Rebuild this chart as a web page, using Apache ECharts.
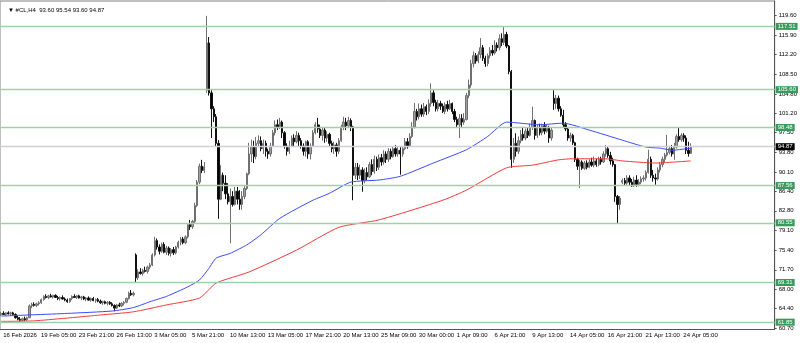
<!DOCTYPE html>
<html><head><meta charset="utf-8">
<script src="https://cdn.jsdelivr.net/npm/echarts@6/dist/echarts.min.js"></script>
<style>html,body{margin:0;padding:0;background:#fff}#c{width:800px;height:343px}</style>
</head><body><div id="c"></div>
<script>
const symbolName = '#CL,H4';
const xLabels = ['16 Feb 2026','19 Feb 05:00','23 Feb 21:00','26 Feb 13:00','3 Mar 05:00','5 Mar 21:00','10 Mar 13:00','13 Mar 05:00','17 Mar 21:00','20 Mar 13:00','25 Mar 09:00','30 Mar 00:00','1 Apr 09:00','6 Apr 21:00','9 Apr 13:00','14 Apr 05:00','16 Apr 21:00','21 Apr 13:00','24 Apr 05:00'];
const yTicks = [60.70,64.40,68.00,71.70,75.40,79.10,82.80,86.40,90.10,93.80,97.50,101.20,104.80,108.50,112.20,115.90,119.60];
const levels = [117.51,105.60,98.48,87.56,80.55,69.31,61.85];

const opens = [
63.3,63.5,63.3,63.6,63.4,63.6,63.3,62.7,62.4,62.2,
62.5,62.3,62.7,64.9,65.2,65.0,65.3,65.5,66.1,66.7,
66.5,66.8,66.6,66.9,66.5,66.3,66.5,66.2,66.0,65.7,
66.3,66.7,66.5,66.8,66.4,66.6,66.2,66.4,66.0,66.3,
65.9,66.1,65.8,65.5,65.7,65.4,65.6,65.3,65.0,64.5,
65.1,64.9,65.4,65.6,66.3,67.3,67.0,74.5,70.2,71.3,
71.0,71.6,71.4,72.2,72.6,74.5,77.2,76.0,75.2,76.5,
75.0,75.8,74.8,75.5,74.9,76.0,76.9,77.5,76.8,77.9,
80.2,79.8,80.8,83.8,88.2,91.2,90.4,105.5,114.4,105.0,
102.0,100.5,95.5,85.0,89.5,88.0,86.0,84.5,85.5,84.0,
86.5,85.0,84.0,85.5,87.0,89.8,93.5,94.8,93.0,95.5,
96.0,94.5,95.5,94.0,93.5,95.0,97.5,99.0,98.6,99.5,
97.5,95.0,94.0,95.0,96.5,95.8,97.0,96.0,95.0,94.0,
95.8,93.5,95.0,97.5,99.0,98.2,97.0,98.0,96.5,97.2,
95.5,94.5,95.2,94.0,96.0,98.6,99.5,98.8,99.8,98.6,
89.5,91.0,89.5,90.5,88.5,90.0,89.2,91.5,90.2,92.5,
91.0,92.8,92.0,93.5,92.5,94.0,93.0,94.5,93.5,94.2,
93.5,94.5,95.8,95.0,96.8,98.6,101.5,100.5,102.0,101.0,
102.4,101.5,103.0,105.0,103.2,102.0,103.0,102.5,101.5,102.8,
102.0,103.0,101.5,100.0,99.0,100.2,99.5,100.0,104.5,106.5,
110.5,112.0,111.0,112.2,113.5,111.5,110.5,112.0,113.0,112.5,
114.0,113.5,115.2,114.5,116.0,113.8,109.0,92.5,95.5,94.0,
96.0,97.2,96.5,97.8,97.0,98.5,99.8,97.0,98.5,97.5,
98.8,97.8,98.5,96.5,104.0,103.0,104.0,102.0,100.8,99.0,
98.2,96.5,97.0,95.6,92.5,91.2,92.0,90.8,91.8,91.0,
92.0,91.4,92.2,91.5,92.5,92.0,93.5,94.5,93.2,92.2,
91.5,85.5,84.0,88.2,88.5,88.0,89.0,88.2,87.5,88.6,
87.8,88.2,88.8,89.0,90.0,92.5,89.5,89.0,88.8,90.5,
91.5,92.5,93.3,93.8,94.5,93.5,94.8,96.8,96.2,97.0,
96.5,94.2,93.60];
const highs = [
63.8,63.9,63.7,63.9,63.8,63.8,63.5,63.0,62.8,62.7,
62.9,62.9,65.2,65.5,65.6,65.5,65.8,66.3,66.9,67.1,
67.0,67.2,67.0,67.1,66.8,66.7,66.9,66.5,66.3,66.4,
66.9,67.1,66.9,67.0,66.8,66.8,66.6,66.7,66.5,66.6,
66.3,66.4,66.1,65.9,65.9,65.8,65.8,65.6,65.2,65.3,
65.5,65.6,65.8,66.5,67.6,67.9,67.6,74.8,71.8,72.0,
71.9,72.3,72.5,73.0,74.8,77.9,77.6,76.5,76.8,76.9,
76.2,76.1,75.8,76.0,76.2,77.2,77.9,77.9,78.2,80.5,
81.1,81.1,84.3,88.6,91.7,92.4,92.0,119.5,115.5,105.5,
102.5,101.0,96.1,91.4,90.0,89.5,88.0,87.0,86.5,87.3,
87.3,86.7,86.5,87.5,90.0,95.6,96.2,96.0,96.7,97.0,
96.8,96.2,96.0,94.5,95.6,98.0,99.8,100.0,100.3,99.8,
97.8,95.5,96.0,97.0,97.2,97.8,97.5,96.5,95.5,96.0,
96.1,95.5,98.0,99.5,100.3,99.0,98.6,98.5,97.8,97.5,
96.0,95.8,95.6,96.5,99.0,100.5,100.3,100.5,100.2,98.8,
91.8,91.8,91.5,91.0,90.8,91.0,92.0,92.5,93.2,93.0,
93.4,93.5,94.2,94.0,94.6,94.5,95.0,95.2,95.0,94.8,
95.0,96.5,96.5,97.4,99.5,103.1,102.0,103.0,102.8,103.1,
102.8,103.8,106.8,105.5,103.7,103.7,103.5,103.0,103.2,103.5,
103.7,103.2,102.0,100.5,101.0,101.0,101.2,105.0,107.5,111.2,
112.8,112.5,112.8,115.3,114.0,112.0,112.4,113.6,114.0,114.9,
114.5,116.0,116.2,117.4,116.5,114.0,109.3,96.5,97.4,96.8,
98.0,98.6,98.3,98.5,99.2,102.4,100.0,99.0,99.2,99.2,
99.5,99.0,98.8,98.5,105.5,104.6,104.5,102.5,101.8,99.5,
98.5,97.5,97.3,95.8,92.8,92.4,92.3,92.2,92.3,92.5,
92.8,93.0,92.6,93.0,93.0,94.0,95.2,94.8,93.9,92.8,
91.6,85.8,85.6,88.9,89.0,89.5,89.5,88.8,89.2,89.5,
88.8,89.3,89.5,90.4,94.3,93.0,90.5,89.8,91.0,92.0,
93.0,93.7,97.1,94.8,95.2,95.6,97.2,98.4,97.4,97.4,
97.0,95.8,95.54];
const lows = [
63.0,63.2,63.0,63.3,63.1,63.2,62.5,62.2,61.9,62.0,
62.1,62.1,62.6,64.5,64.8,64.7,65.0,65.3,65.9,66.3,
66.2,66.5,66.3,66.4,66.0,65.9,66.1,65.8,65.5,65.5,
66.0,66.4,66.2,66.3,66.0,66.0,65.8,65.9,65.7,65.8,
65.5,65.6,65.3,65.1,65.2,65.0,65.1,64.8,63.9,64.3,
64.7,64.7,65.0,65.4,66.1,66.8,66.7,69.3,69.8,70.8,
70.6,71.2,71.0,71.8,72.4,74.2,75.5,74.6,74.9,74.8,
74.5,74.4,74.2,74.5,74.6,75.7,76.3,76.5,76.5,77.6,
79.2,79.4,80.5,83.5,87.8,89.9,89.9,105.0,104.5,96.5,
99.5,94.8,81.3,84.8,86.5,85.0,84.0,76.7,83.6,83.8,
84.0,83.0,83.0,85.0,86.7,89.5,92.0,91.8,92.5,94.8,
94.0,93.5,93.0,92.6,93.0,94.8,97.0,98.0,98.2,96.5,
94.5,93.2,93.5,94.8,95.0,95.5,95.0,94.5,93.2,93.0,
92.6,92.5,94.8,97.2,97.5,96.5,96.0,95.6,95.8,95.0,
93.8,93.5,93.0,93.5,95.8,98.0,98.0,98.5,97.8,84.8,
88.8,88.6,88.8,86.4,88.0,88.6,89.0,89.5,89.8,90.3,
90.5,91.3,91.5,91.8,92.0,92.5,92.8,93.0,93.0,89.6,
93.0,94.2,94.5,94.8,96.5,98.3,99.8,100.0,100.5,100.5,
100.8,101.0,102.4,102.5,101.5,101.5,101.8,101.2,101.0,101.5,
101.8,101.0,99.5,98.5,96.5,98.6,99.0,99.8,104.0,106.0,
109.8,110.5,110.6,111.5,111.0,109.9,110.0,111.5,112.0,112.2,
112.8,113.0,113.8,114.0,113.4,108.5,90.9,91.8,93.0,93.5,
95.5,96.0,96.1,96.5,96.8,98.0,96.2,96.5,97.0,97.0,
97.2,97.5,95.6,96.0,101.8,102.0,101.5,100.5,98.5,97.8,
96.0,95.8,95.2,92.0,90.5,87.1,90.5,90.5,90.6,90.8,
91.1,91.0,91.1,91.2,91.5,91.8,93.0,92.8,91.5,91.1,
84.5,80.5,83.0,87.8,87.5,87.6,87.5,87.3,87.3,87.3,
87.4,87.8,88.3,88.5,89.8,89.0,88.3,87.7,88.5,90.0,
91.0,92.0,93.0,93.4,93.0,92.4,94.5,95.8,95.8,95.8,
93.5,93.0,93.60];
const closes = [
63.5,63.3,63.6,63.4,63.6,63.3,62.7,62.4,62.2,62.5,
62.3,62.7,64.9,65.2,65.0,65.3,65.5,66.1,66.7,66.5,
66.8,66.6,66.9,66.5,66.3,66.5,66.2,66.0,65.7,66.3,
66.7,66.5,66.8,66.4,66.6,66.2,66.4,66.0,66.3,65.9,
66.1,65.8,65.5,65.7,65.4,65.6,65.3,65.0,64.5,65.1,
64.9,65.4,65.6,66.3,67.3,67.0,67.3,70.2,71.3,71.0,
71.6,71.4,72.2,72.6,74.5,77.2,76.0,75.2,76.5,75.0,
75.8,74.8,75.5,74.9,76.0,76.9,77.5,76.8,77.9,80.2,
79.8,80.8,83.8,88.2,91.2,90.4,91.1,114.4,105.0,102.0,
100.5,95.5,85.0,89.5,88.0,86.0,84.5,85.5,84.0,86.5,
85.0,84.0,85.5,87.0,89.8,93.5,94.8,93.0,95.5,96.0,
94.5,95.5,94.0,93.5,95.0,97.5,99.0,98.6,99.5,97.5,
95.0,94.0,95.0,96.5,95.8,97.0,96.0,95.0,94.0,95.8,
93.5,95.0,97.5,99.0,98.2,97.0,98.0,96.5,97.2,95.5,
94.5,95.2,94.0,96.0,98.6,99.5,98.8,99.8,98.6,89.5,
91.0,89.5,90.5,88.5,90.0,89.2,91.5,90.2,92.5,91.0,
92.8,92.0,93.5,92.5,94.0,93.0,94.5,93.5,94.2,93.5,
94.5,95.8,95.0,96.8,98.6,101.5,100.5,102.0,101.0,102.4,
101.5,103.0,105.0,103.2,102.0,103.0,102.5,101.5,102.8,102.0,
103.0,101.5,100.0,99.0,100.2,99.5,100.0,104.5,106.5,110.5,
112.0,111.0,112.2,113.5,111.5,110.5,112.0,113.0,112.5,114.0,
113.5,115.2,114.5,116.0,113.8,109.0,92.5,95.5,94.0,96.0,
97.2,96.5,97.8,97.0,98.5,99.8,97.0,98.5,97.5,98.8,
97.8,98.5,96.5,98.0,103.0,104.0,102.0,100.8,99.0,98.2,
96.5,97.0,95.6,92.5,91.2,92.0,90.8,91.8,91.0,92.0,
91.4,92.2,91.5,92.5,92.0,93.5,94.5,93.2,92.2,91.5,
85.5,84.0,85.2,88.5,88.0,89.0,88.2,87.5,88.6,87.8,
88.2,88.8,89.0,90.0,92.5,89.5,89.0,88.8,90.5,91.5,
92.5,93.3,93.8,94.5,93.5,94.8,96.8,96.2,97.0,96.5,
94.2,93.6,94.87];

// moving averages read at sampled bars
const blueIdx = [0,28,47,56,63,70,79,84,88,91,97,104,110,118,132,139,148,160,169,183,197,206,214,228,238,249,263,273,279,284,292];
const blueVal = [63.0,63.5,63.95,64.6,65.7,66.7,68.5,69.8,72.0,73.9,74.8,76.4,78.3,81.4,84.8,86.1,88.2,88.6,89.3,91.8,94.3,96.8,99.5,99.0,99.3,98.0,96.1,94.8,94.6,94.2,94.6];
const redIdx = [0,14,42,56,70,84,91,105,125,143,160,187,197,214,225,236,242,256,263,277,292];
const redVal = [62.0,62.1,63.2,63.8,65.1,66.4,69.2,71.3,75.4,79.7,81.1,84.8,86.7,90.9,91.4,92.4,92.6,92.6,92.2,91.8,92.2];

const N_SLOTS = 328, LABEL_STEP = 16;
const categories = Array.from({length: N_SLOTS}, (_, i) => i % LABEL_STEP === 0 ? (xLabels[i / LABEL_STEP] || '') : '');
const candleData = opens.map((o, i) => [o, closes[i], lows[i], highs[i]]);
const last = opens.length - 1;
const lastPrice = closes[last];
const FONT = 'Liberation Sans';

const chart = echarts.init(document.getElementById('c'), null, {renderer: 'canvas'});
const levelLines = levels.map(v => ({
  yAxis: v,
  lineStyle: {color: '#9ad2ad', width: 1.3, type: 'solid'},
  label: {backgroundColor: '#3a9a5d', color: '#fff'}
}));
levelLines.push({
  yAxis: lastPrice,
  lineStyle: {color: '#cdd0d6', width: 1.3, type: 'solid'},
  label: {backgroundColor: '#000', color: '#fff'}
});

chart.setOption({
  animation: false,
  backgroundColor: '#fff',
  title: {
    text: '\u25BC ' + symbolName + '  ' + [opens[last], highs[last], lows[last], closes[last]].map(v => v.toFixed(2)).join(' '),
    left: 3, top: 2,
    textStyle: {fontSize: 6, fontWeight: 'normal', color: '#000', fontFamily: FONT}
  },
  grid: {left: 0, right: 25, top: 1, bottom: 13.5, show: true, borderColor: '#808080', borderWidth: 1},
  xAxis: {
    type: 'category', data: categories, boundaryGap: true,
    axisLine: {lineStyle: {color: '#555'}},
    axisTick: {interval: LABEL_STEP - 1, alignWithLabel: true, length: 2, lineStyle: {color: '#555'}},
    axisLabel: {interval: LABEL_STEP - 1, align: 'left', padding: [0, 0, 0, 2], margin: 3, fontSize: 6, color: '#000', fontFamily: FONT},
    splitLine: {show: false}
  },
  yAxis: {
    type: 'value', position: 'right', min: 60.47, max: 122.29,
    axisLine: {show: true, lineStyle: {color: '#555'}},
    axisTick: {show: true, length: 2, customValues: yTicks, lineStyle: {color: '#555'}},
    axisLabel: {customValues: yTicks, formatter: v => v.toFixed(2), fontSize: 6, color: '#000', margin: 4, fontFamily: FONT},
    splitLine: {show: false}
  },
  series: [
    {
      type: 'candlestick', data: candleData, barWidth: 1.8,
      itemStyle: {color: '#a0a0a0', borderColor: '#707070', color0: '#000', borderColor0: '#111', borderWidth: 1},
      markLine: {
        silent: true, symbol: ['none', 'none'], animation: false,
        label: {position: 'end', distance: 1, fontSize: 6, fontFamily: FONT, padding: [1, 2, 0, 2], formatter: p => p.value.toFixed(2)},
        data: levelLines
      }
    },
    {
      type: 'line', data: blueIdx.map((i, k) => [i, blueVal[k]]), symbol: 'none', smooth: 0.2,
      lineStyle: {color: '#3b4cf2', width: 1}, z: 3
    },
    {
      type: 'line', data: redIdx.map((i, k) => [i, redVal[k]]), symbol: 'none', smooth: 0.2,
      lineStyle: {color: '#f23b3b', width: 1}, z: 3
    }
  ]
});
</script>
</body></html>
